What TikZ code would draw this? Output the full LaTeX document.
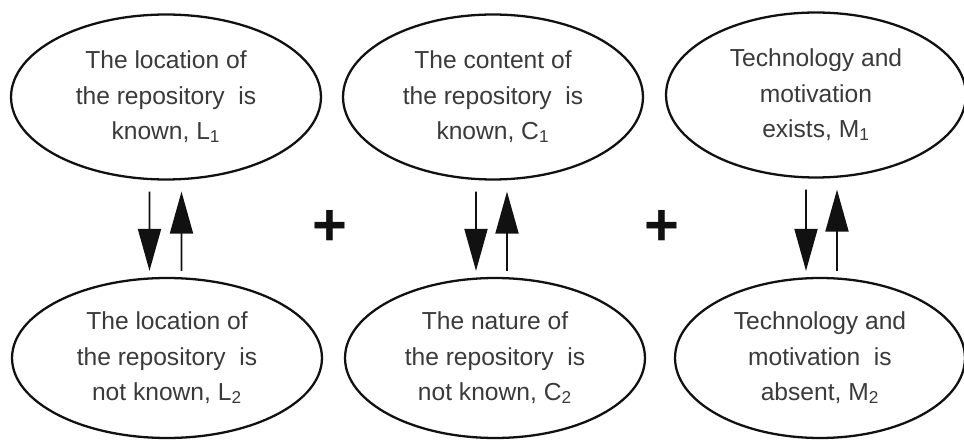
\documentclass[tikz,border=0pt]{standalone}
\usepackage{fontspec}
\setmainfont{Liberation Sans}
\usetikzlibrary{arrows.meta,calc,shapes.geometric}
\definecolor{Ink}{HTML}{111111}
\definecolor{Lettering}{HTML}{3A3A3A}
\tikzset{
  state/.style={
    ellipse, draw=Ink, line width=1.3pt, fill=white, inner sep=0pt,
    minimum width=6.2cm, minimum height=3.3cm, align=center,
    text=Lettering, font=\fontsize{14}{20}\selectfont
  },
  goesdown/.style={-{Triangle[length=0.84cm,width=0.46cm]}, line width=1.1pt, draw=Ink,
    shorten <=0.22cm, shorten >=0.12cm},
  goesup/.style={-{Triangle[length=0.84cm,width=0.46cm]}, line width=1.1pt, draw=Ink,
    shorten <=0.12cm, shorten >=0.22cm},
  plus/.style={text=Ink, font=\fontsize{34}{34}\bfseries\selectfont, inner sep=0pt}
}
\begin{document}
\begin{tikzpicture}[x=0.02cm,y=-0.02cm]
    \useasboundingbox (0,0) rectangle (964,442);
    % top row
    \node[state] (loc1) at (166,97) {The location of\\the repository\ \ is\\known, L\textsubscript{1}};
    \node[state,minimum width=6.0cm] (cont1) at (493,97) {The content of\\the repository\ \ is\\known, C\textsubscript{1}};
    \node[state,minimum width=6.0cm] (tech1) at (816,95) {Technology and\\motivation\\exists, M\textsubscript{1}};
    % bottom row
    \node[state,minimum height=3.2cm] (loc2) at (167,358) {The location of\\the repository\ \ is\\not known, L\textsubscript{2}};
    \node[state,minimum width=6.0cm,minimum height=3.2cm] (cont2) at (495,358) {The nature of\\the repository\ \ is\\not known, C\textsubscript{2}};
    \node[state,minimum width=5.8cm,minimum height=3.2cm] (tech2) at (820,358) {Technology and\\motivation\ \ is\\absent, M\textsubscript{2}};
    % transitions
    \draw[goesdown] ([xshift=-0.33cm]loc1.south) -- ([xshift=-0.35cm]loc2.north);
    \draw[goesup] ([xshift=0.29cm]loc2.north) -- ([xshift=0.31cm]loc1.south);
    \draw[goesdown] ([xshift=-0.34cm]cont1.south) -- ([xshift=-0.38cm]cont2.north);
    \draw[goesup] ([xshift=0.24cm]cont2.north) -- ([xshift=0.28cm]cont1.south);
    \draw[goesdown] ([xshift=-0.2cm]tech1.south) -- ([xshift=-0.28cm]tech2.north);
    \draw[goesup] ([xshift=0.34cm]tech2.north) -- ([xshift=0.42cm]tech1.south);
    \node[plus] (and1) at (330,228) {+};
    \node[plus] (and2) at (662,228) {+};
  \end{tikzpicture}
\end{document}
